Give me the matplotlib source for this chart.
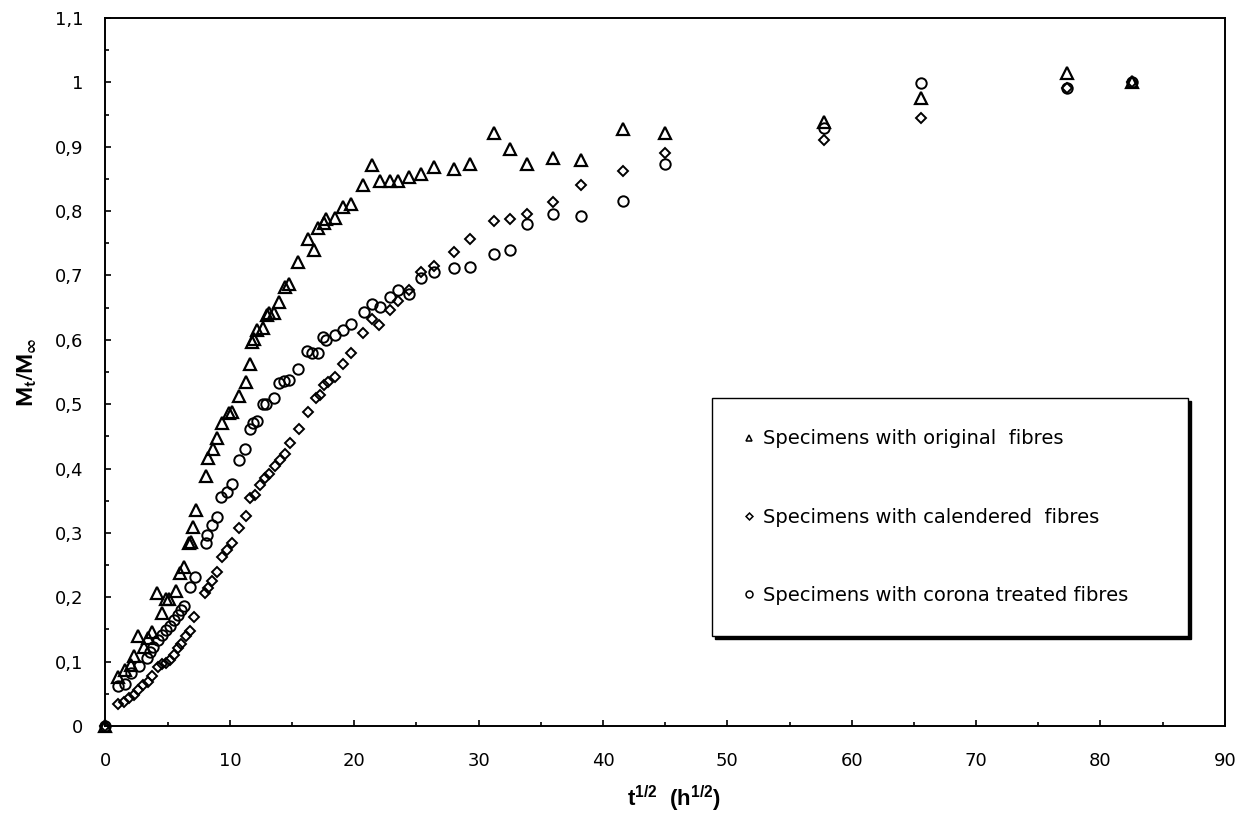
import matplotlib
matplotlib.use("Agg")
import matplotlib.pyplot as plt
from matplotlib.lines import Line2D
from matplotlib.ticker import MultipleLocator, FuncFormatter

plt.rcParams['font.family'] = ['DejaVu Sans']
plt.rcParams['mathtext.fontset'] = 'custom'
plt.rcParams['mathtext.rm'] = 'Liberation Sans'
plt.rcParams['mathtext.bf'] = 'Liberation Sans:bold'
plt.rcParams['mathtext.it'] = 'Liberation Sans:italic'

# --- data (t^1/2 in h^1/2, Mt/Minf) ---
x_orig = [0, 0.98, 1.57, 2.05, 2.32, 2.64, 3.12, 3.44, 3.76, 4.11, 4.51, 4.83, 5.1, 5.64,
          5.98, 6.33, 6.73, 6.84, 7.0, 7.27, 8.07, 8.26, 8.61, 8.93, 9.41, 9.94, 10.14,
          10.75, 11.29, 11.66, 11.82, 11.93, 12.19, 12.63, 12.95, 13.16, 13.53, 13.96,
          14.42, 14.76, 15.49, 16.29, 16.75, 17.1, 17.55, 17.76, 18.43, 19.1, 19.78,
          20.7, 21.46, 22.05, 22.85, 23.5, 24.4, 25.4, 26.4, 28.0, 29.3, 31.2, 32.5,
          33.9, 36.0, 38.2, 41.6, 45.0, 57.8, 65.6, 77.3, 82.5]
y_orig = [0, 0.076, 0.087, 0.095, 0.108, 0.140, 0.122, 0.136, 0.146, 0.206, 0.175, 0.197,
          0.198, 0.209, 0.237, 0.247, 0.284, 0.286, 0.309, 0.335, 0.388, 0.417, 0.430,
          0.447, 0.471, 0.486, 0.488, 0.512, 0.535, 0.562, 0.597, 0.602, 0.616, 0.619,
          0.638, 0.641, 0.642, 0.659, 0.682, 0.686, 0.721, 0.757, 0.739, 0.774, 0.781,
          0.788, 0.790, 0.806, 0.811, 0.840, 0.871, 0.847, 0.847, 0.847, 0.853, 0.857,
          0.868, 0.866, 0.873, 0.921, 0.896, 0.873, 0.882, 0.880, 0.927, 0.921, 0.939,
          0.975, 1.014, 1.0]

x_cal = [0, 0.98, 1.51, 1.89, 2.32, 2.64, 3.04, 3.39, 3.76, 4.19, 4.51, 4.83, 5.18, 5.53,
         5.8, 6.06, 6.44, 6.79, 7.14, 7.99, 8.26, 8.58, 8.93, 9.41, 9.78, 10.14, 10.75,
         11.29, 11.6, 12.0, 12.41, 12.81, 13.16, 13.61, 14.02, 14.42, 14.82, 15.57,
         16.29, 16.91, 17.28, 17.55, 17.9, 18.43, 19.1, 19.78, 20.7, 21.46, 21.99,
         22.85, 23.5, 24.4, 25.4, 26.4, 28.0, 29.3, 31.2, 32.5, 33.9, 36.0, 38.2, 41.6,
         45.0, 57.8, 65.6, 77.3, 82.5]
y_cal = [0, 0.034, 0.038, 0.043, 0.048, 0.056, 0.064, 0.069, 0.077, 0.092, 0.096, 0.098,
         0.102, 0.110, 0.121, 0.128, 0.140, 0.148, 0.169, 0.206, 0.214, 0.226, 0.240,
         0.263, 0.273, 0.285, 0.307, 0.326, 0.354, 0.359, 0.374, 0.385, 0.391, 0.404,
         0.413, 0.422, 0.440, 0.461, 0.488, 0.509, 0.514, 0.530, 0.535, 0.543, 0.562,
         0.580, 0.611, 0.633, 0.623, 0.646, 0.660, 0.677, 0.705, 0.714, 0.736, 0.756,
         0.784, 0.787, 0.796, 0.814, 0.840, 0.862, 0.891, 0.910, 0.945, 0.992, 1.0]

x_cor = [0, 0.98, 1.57, 2.05, 2.69, 3.31, 3.57, 3.84, 4.19, 4.51, 4.83, 5.18, 5.53, 5.8,
         6.06, 6.33, 6.79, 7.19, 8.07, 8.18, 8.53, 8.93, 9.33, 9.78, 10.14, 10.75, 11.2,
         11.6, 11.87, 12.19, 12.63, 12.9, 13.53, 13.96, 14.34, 14.76, 15.49, 16.2, 16.64,
         17.1, 17.5, 17.76, 18.43, 19.1, 19.78, 20.76, 21.46, 22.05, 22.85, 23.5, 24.4,
         25.4, 26.4, 28.0, 29.3, 31.2, 32.5, 33.9, 36.0, 38.2, 41.6, 45.0, 57.8, 65.6,
         77.3, 82.5]
y_cor = [0, 0.062, 0.066, 0.082, 0.093, 0.105, 0.115, 0.123, 0.134, 0.141, 0.149, 0.155,
         0.165, 0.172, 0.180, 0.186, 0.216, 0.231, 0.284, 0.297, 0.312, 0.325, 0.356,
         0.364, 0.376, 0.414, 0.430, 0.462, 0.471, 0.474, 0.500, 0.501, 0.509, 0.533,
         0.536, 0.538, 0.555, 0.583, 0.580, 0.580, 0.604, 0.599, 0.607, 0.616, 0.625,
         0.643, 0.655, 0.651, 0.666, 0.677, 0.671, 0.696, 0.705, 0.711, 0.713, 0.733,
         0.739, 0.780, 0.796, 0.793, 0.815, 0.873, 0.929, 0.999, 0.992, 1.0]

labels = ['Specimens with original  fibres',
          'Specimens with calendered  fibres',
          'Specimens with corona treated fibres']

fig = plt.figure(figsize=(12.39, 8.16), dpi=100)
ax = fig.add_axes([0.0851, 0.1103, 0.9035, 0.8676])

mk = dict(linestyle='none', markerfacecolor='none', markeredgecolor='black', clip_on=False)
ax.plot(x_orig, y_orig, marker='^', markersize=8, markeredgewidth=1.6, **mk)
ax.plot(x_cal, y_cal, marker='D', markersize=5, markeredgewidth=1.4, **mk)
ax.plot(x_cor, y_cor, marker='o', markersize=7.5, markeredgewidth=1.4, **mk)

ax.set_xlim(0, 90)
ax.set_ylim(0, 1.1)

ax.xaxis.set_major_locator(MultipleLocator(10))
ax.xaxis.set_minor_locator(MultipleLocator(5))
ax.yaxis.set_major_locator(MultipleLocator(0.1))
ax.yaxis.set_minor_locator(MultipleLocator(0.05))

def comma_fmt(v, pos):
    s = f'{v:.1f}'
    if s.endswith('.0'):
        s = s[:-2]
    return s.replace('.', ',')

ax.yaxis.set_major_formatter(FuncFormatter(comma_fmt))
ax.xaxis.set_major_formatter(FuncFormatter(lambda v, p: f'{v:.0f}'))

ax.tick_params(which='major', direction='in', length=4.5, width=1.2, labelsize=13, pad=16)
ax.tick_params(which='minor', direction='in', length=3, width=1.2)
ax.tick_params(axis='x', which='major', pad=19)
for sp in ax.spines.values():
    sp.set_linewidth(1.4)

ax.set_xlabel(r'$\mathbf{t^{1/2}\ \ (h^{1/2})}$', fontsize=16)
ax.xaxis.set_label_coords(0.508, -0.082)
ylab = ax.set_ylabel(r'$\mathbf{M_t/M_{\infty}}$', fontsize=16, labelpad=12)
ylab.set_math_fontfamily('stixsans')

handles = [Line2D([], [], marker='^', markersize=5, **mk, markeredgewidth=1.1),
           Line2D([], [], marker='D', markersize=3.5, **mk, markeredgewidth=1.1),
           Line2D([], [], marker='o', markersize=5, **mk, markeredgewidth=1.1)]
leg = ax.legend(handles, labels, loc='upper left',
                bbox_to_anchor=(0.542, 0.463, 0.425, 0), mode='expand',
                frameon=True, fancybox=False, shadow={'color': 'black', 'alpha': 1},
                edgecolor='black', fontsize=14, handlelength=0.6, handletextpad=0.4,
                labelspacing=3.05, borderpad=1.6, borderaxespad=0, framealpha=1)
leg.get_frame().set_linewidth(1.0)

fig.savefig('out.png', dpi=100)
